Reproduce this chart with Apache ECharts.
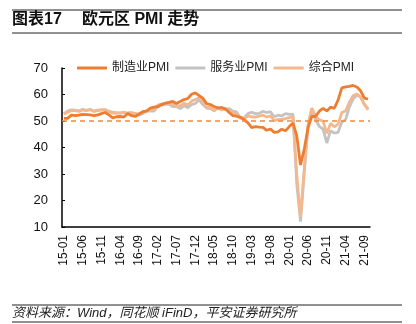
<!DOCTYPE html>
<html>
<head>
<meta charset="utf-8">
<script src="https://cdn.jsdelivr.net/npm/echarts@6/dist/echarts.min.js"></script>
<style>
html,body{margin:0;padding:0;background:#fff;}
#c{width:416px;height:324px;}
</style>
</head>
<body>
<div id="c"></div>
<script>
// Monthly categories 2015-01 .. 2021-10
const categories = [];
for (let y = 15; y <= 21; y++) {
  for (let m = 1; m <= 12; m++) {
    if (y === 21 && m > 10) break;
    categories.push(y + '-' + (m < 10 ? '0' + m : '' + m));
  }
}

const manufacturing = [
  51.0,51.0,52.2,52.0,52.2,52.5,52.4,52.3,52.0,52.3,52.8,53.2,
  52.3,51.2,51.6,51.7,51.5,52.8,52.0,51.7,52.6,53.5,53.7,54.9,
  55.2,55.4,56.2,56.7,57.0,57.4,56.6,57.4,58.1,58.5,60.1,60.6,
  59.6,58.6,56.6,56.2,55.5,54.9,55.1,54.6,53.2,52.0,51.8,51.4,
  50.5,49.3,47.5,47.9,47.7,47.6,46.5,47.0,45.7,45.9,46.9,46.3,
  47.9,49.2,44.5,33.4,39.4,47.4,51.8,51.7,53.7,54.8,53.8,55.2,
  54.8,57.9,62.5,62.9,63.1,63.4,62.8,61.4,58.6,58.3
];
const services = [
  52.7,53.7,54.2,54.1,53.8,54.4,54.0,54.4,53.7,54.1,54.2,54.2,
  53.6,53.3,53.1,53.1,53.3,52.8,52.9,52.8,52.2,52.8,53.8,53.7,
  53.7,55.5,56.0,56.4,56.3,55.4,55.4,54.7,55.8,55.0,56.2,56.6,
  58.0,56.2,54.9,54.7,53.8,55.2,54.2,54.4,54.7,53.7,53.4,51.2,
  51.2,52.8,53.3,52.8,52.9,53.6,53.2,53.5,51.6,52.2,51.9,52.8,
  52.5,52.6,26.4,12.0,30.5,48.3,54.7,50.5,48.0,46.9,41.7,46.4,
  45.4,45.7,49.6,50.5,55.2,58.3,59.8,59.0,56.4,54.6
];
const composite = [
  52.6,53.3,54.0,53.9,53.6,54.2,53.9,54.3,53.6,53.9,54.2,54.3,
  53.6,53.0,53.1,53.0,53.1,53.1,53.2,52.9,52.6,53.3,53.9,54.4,
  54.4,56.0,56.4,56.8,56.8,56.3,55.7,55.7,56.7,56.0,57.5,58.1,
  58.8,57.1,55.2,55.1,54.1,54.9,54.3,54.5,53.9,53.1,52.7,51.1,
  51.0,51.9,51.6,51.5,51.8,52.2,51.5,51.9,50.1,50.6,50.6,50.9,
  51.3,51.6,29.7,13.6,31.9,48.5,54.9,51.9,50.4,50.0,45.3,49.1,
  47.8,48.8,53.2,53.8,57.1,59.5,60.2,59.0,56.2,54.2
];
const seriesNames = ['制造业PMI','服务业PMI','综合PMI'];
const threshold = 50;
const yTicks = {min: 10, max: 70, interval: 10};
const titleLeft = '图表17';
const titleRight = '欧元区 PMI 走势';
const sourceText = '资料来源：Wind，同花顺 iFinD，平安证券研究所';

const colors = ['#ED7D31', '#C3C3C3', '#F5B88E'];
const chart = echarts.init(document.getElementById('c'), null, {renderer: 'canvas'});
const font = 'Arial, "Liberation Sans", "Noto Sans CJK SC", sans-serif';

chart.setOption({
  animation: false,
  color: colors,
  textStyle: {fontFamily: font},
  grid: {left: 62, right: 46, top: 68, bottom: 97, containLabel: false},
  legend: {
    left: 72, top: 57,
    itemWidth: 30, itemHeight: 3, itemGap: 6,
    icon: 'rect',
    textStyle: {fontSize: 12, color: '#222', fontFamily: font, padding: [0, 0, 0, 0]},
    data: [seriesNames[0], seriesNames[1], seriesNames[2]]
  },
  xAxis: {
    type: 'category',
    data: categories,
    boundaryGap: true,
    axisLine: {lineStyle: {color: '#000', width: 1.5}},
    axisTick: {inside: true, length: 3, interval: 4, lineStyle: {color: '#000', width: 1}},
    axisLabel: {interval: 4, rotate: 90, fontSize: 12, color: '#111', margin: 8, fontFamily: font}
  },
  yAxis: {
    type: 'value',
    min: yTicks.min, max: yTicks.max, interval: yTicks.interval,
    splitLine: {show: false},
    axisLine: {show: true, lineStyle: {color: '#000', width: 1.5}},
    axisTick: {show: true, inside: true, length: 3, lineStyle: {color: '#000', width: 1}},
    axisLabel: {fontSize: 13, color: '#111', margin: 14, fontFamily: font}
  },
  series: [
    {name: seriesNames[1], type: 'line', data: services, symbol: 'none', z: 2,
     lineStyle: {width: 2.8, color: colors[1]}, itemStyle: {color: colors[1]}},
    {name: seriesNames[2], type: 'line', data: composite, symbol: 'none', z: 3,
     lineStyle: {width: 2.8, color: colors[2]}, itemStyle: {color: colors[2]}},
    {name: seriesNames[0], type: 'line', data: manufacturing, symbol: 'none', z: 4,
     lineStyle: {width: 2.8, color: colors[0]}, itemStyle: {color: colors[0]},
     markLine: {
       silent: true, symbol: 'none', label: {show: false},
       lineStyle: {color: '#F08A3C', type: [5, 4], width: 1.5},
       data: [{yAxis: threshold}]
     }}
  ],
  graphic: [
    {type: 'line', shape: {x1: 12, y1: 10, x2: 402, y2: 10}, style: {stroke: '#222', lineWidth: 1}},
    {type: 'line', shape: {x1: 12, y1: 33, x2: 402, y2: 33}, style: {stroke: '#222', lineWidth: 1}},
    {type: 'text', left: 12, top: 12, style: {text: titleLeft, font: 'bold 16px ' + font, fill: '#111'}},
    {type: 'text', left: 82, top: 12, style: {text: titleRight, font: 'bold 16px ' + font, fill: '#111'}},
    {type: 'line', shape: {x1: 12, y1: 305, x2: 402, y2: 305}, style: {stroke: '#222', lineWidth: 1}},
    {type: 'line', shape: {x1: 12, y1: 322, x2: 402, y2: 322}, style: {stroke: '#222', lineWidth: 1}},
    {type: 'text', left: 12, top: 307, style: {text: sourceText, font: 'italic 13px ' + font, fill: '#222'}}
  ]
});
</script>
</body>
</html>
